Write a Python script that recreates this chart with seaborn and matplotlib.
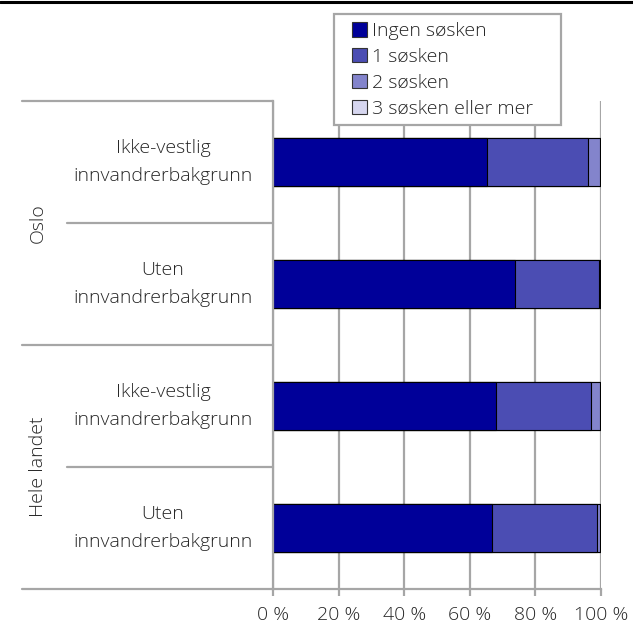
import matplotlib

matplotlib.use("Agg")
import matplotlib.pyplot as plt  # noqa: E402
import numpy as np  # noqa: E402
import seaborn as sns  # noqa: E402
from matplotlib.patches import Patch, Rectangle  # noqa: E402

# Data (andel i prosent)
groups = ["Oslo", "Oslo", "Hele landet", "Hele landet"]
rows = ["Ikke-vestlig\ninnvandrerbakgrunn", "Uten\ninnvandrerbakgrunn",
        "Ikke-vestlig\ninnvandrerbakgrunn", "Uten\ninnvandrerbakgrunn"]
series_names = ["Ingen søsken", "1 søsken", "2 søsken", "3 søsken eller mer"]
ingen = [65.2, 73.7, 68.1, 66.7]
en = [30.7, 25.6, 28.9, 32.2]
to = [3.8, 0.5, 2.7, 0.9]
tre = [0.3, 0.2, 0.3, 0.2]
tick_values = [0, 20, 40, 60, 80, 100]
tick_labels = ["0 %", "20 %", "40 %", "60 %", "80 %", "100 %"]

colors = ["#000099", "#4B4DB3", "#8384CC", "#D6D6EF"]
grey = "#A6A6A6"
fs = 14

sns.set_style("white")
plt.rcParams["font.family"] = ["Open Sans", "DejaVu Sans"]
plt.rcParams["font.weight"] = "light"

fig = plt.figure(figsize=(6.33, 6.21), dpi=100)
ax = fig.add_axes([273 / 633, 1 - 589 / 621, 328 / 633, 488 / 621])

row_ids = [f"{g}|{r}" for g, r in zip(groups, rows)]
values = np.array([ingen, en, to, tre])
cum = np.cumsum(values, axis=0)

# stablede søyler: tegn totalsummen først, så de kortere oppå
for k in range(len(series_names) - 1, -1, -1):
    sns.barplot(x=cum[k], y=row_ids, order=row_ids, orient="h", color=colors[k],
                width=0.4, edgecolor="black", linewidth=0.8, saturation=1, ax=ax)

ax.set_xlim(0, 100)
ax.set_ylim(3.5, -0.5)
ax.set_xticks(tick_values)
ax.set_xticklabels(tick_labels, fontsize=fs)
ax.set_yticks([])
ax.set_xlabel("")
ax.set_ylabel("")
ax.xaxis.grid(True, color=grey, linewidth=1.6)
ax.set_axisbelow(True)
ax.tick_params(axis="x", bottom=True, length=5, width=1.6, color=grey, pad=7)

for side in ["top", "right"]:
    ax.spines[side].set_visible(False)
for side in ["left", "bottom"]:
    ax.spines[side].set_color(grey)
    ax.spines[side].set_linewidth(1.6)

# kategori-etiketter og skillelinjer til venstre
tr = ax.get_yaxis_transform()
for i, r in enumerate(rows):
    ax.text(-0.335, i, r, transform=tr, ha="center", va="center",
            fontsize=fs, linespacing=1.7, clip_on=False)
for y, x0 in [(-0.5, -0.765), (0.5, -0.628), (1.5, -0.765), (2.5, -0.628), (3.5, -0.765)]:
    ax.plot([x0, 0], [y, y], transform=tr, color=grey, lw=1.6, clip_on=False)
for name, yc in [("Oslo", 0.5), ("Hele landet", 2.5)]:
    ax.text(-0.716, yc, name, transform=tr, ha="center", va="center",
            rotation=90, fontsize=fs, clip_on=False)

# legende med egen ramme
fig.add_artist(Rectangle((334 / 633, 1 - 125 / 621), 227 / 633, 111 / 621,
                         transform=fig.transFigure, facecolor="white",
                         edgecolor=grey, linewidth=1.6, zorder=4))
handles = [Patch(facecolor=c, edgecolor="#333333", linewidth=0.8) for c in colors]
leg = fig.legend(handles, series_names, loc="upper left",
                 bbox_to_anchor=(352 / 633, 1 - 22 / 621), fontsize=fs,
                 frameon=False, handlelength=0.78, handleheight=0.78,
                 handletextpad=0.25, labelspacing=0.4, borderpad=0,
                 borderaxespad=0)
leg.set_zorder(5)

fig.add_artist(plt.Line2D([0, 1], [1 - 1.5 / 621, 1 - 1.5 / 621], color="black", lw=2.2))

fig.savefig("out.png", dpi=100)
plt.close(fig)
